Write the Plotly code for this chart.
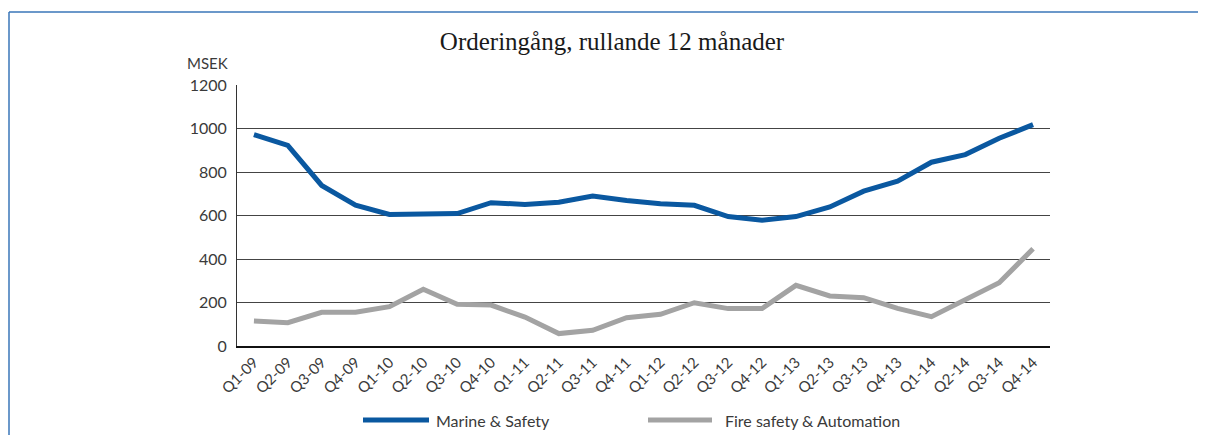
import plotly.graph_objects as go

quarters = ["Q1-09", "Q2-09", "Q3-09", "Q4-09", "Q1-10", "Q2-10", "Q3-10", "Q4-10",
            "Q1-11", "Q2-11", "Q3-11", "Q4-11", "Q1-12", "Q2-12", "Q3-12", "Q4-12",
            "Q1-13", "Q2-13", "Q3-13", "Q4-13", "Q1-14", "Q2-14", "Q3-14", "Q4-14"]
marine_safety = [972, 922, 738, 648, 605, 605, 609, 659, 651, 661, 690, 669,
                 654, 647, 595, 578, 595, 639, 712, 758, 845, 880, 955, 1018]
fire_safety_automation = [115, 107, 155, 155, 181, 261, 192, 188, 133, 57, 72, 130,
                          146, 199, 172, 172, 279, 230, 222, 173, 135, 210, 291, 447]
y_ticks = [0, 200, 400, 600, 800, 1000, 1200]
series_names = ["Marine & Safety", "Fire safety & Automation"]
series_colors = ["#0a58a0", "#a3a3a3"]

W, H = 1206, 435
OFF = 7  # page offset of the figure inside the window
FW, FH = W - OFF, H - OFF
ML, MR, MT, MB = 236 - OFF, W - 1049, 84 - OFF, H - 345
PW, PH = FW - ML - MR, FH - MT - MB


def px(xw):  # window x -> paper x
    return (xw - OFF - ML) / PW


def py(yw):  # window y -> paper y
    return 1 - (yw - OFF - MT) / PH


font_family = "Lato, 'Open Sans', sans-serif"
txt_color = "#3a3a3a"

fig = go.Figure()
fig.add_trace(go.Scatter(x=quarters, y=marine_safety, mode="lines", name=series_names[0],
                         line=dict(color=series_colors[0], width=5)))
fig.add_trace(go.Scatter(x=quarters, y=fire_safety_automation, mode="lines",
                         name=series_names[1], line=dict(color=series_colors[1], width=5)))

frame_color = "#3a76b8"
shapes = [
    dict(type="line", xref="paper", yref="paper", x0=px(8), x1=px(W + 20),
         y0=py(11), y1=py(11), line=dict(color=frame_color, width=1.5)),
    dict(type="line", xref="paper", yref="paper", x0=px(8), x1=px(8),
         y0=py(11), y1=py(H + 20), line=dict(color=frame_color, width=1.5)),
]
annotations = [dict(text="MSEK", xref="paper", yref="paper", x=px(229), y=py(62),
                    xanchor="right", yanchor="middle", showarrow=False,
                    font=dict(family=font_family, size=15, color=txt_color))]

# custom legend (long swatches as in the reference)
legend_items = [(362, 428, 433), (647, 711, 722)]
for (x0, x1, xt), name, col in zip(legend_items, series_names, series_colors):
    shapes.append(dict(type="line", xref="paper", yref="paper", x0=px(x0), x1=px(x1),
                       y0=py(419), y1=py(419), line=dict(color=col, width=5)))
    annotations.append(dict(text=name, xref="paper", yref="paper", x=px(xt), y=py(419),
                            xanchor="left", yanchor="middle", showarrow=False,
                            font=dict(family=font_family, size=16, color=txt_color)))

fig.update_layout(
    width=FW, height=FH,
    margin=dict(l=ML, r=MR, t=MT, b=MB),
    paper_bgcolor="white", plot_bgcolor="white",
    title=dict(text="Orderingång, rullande 12 månader", x=(611 - OFF) / FW, xanchor="center",
               y=1 - (40 - OFF) / FH, yanchor="middle", xref="container", yref="container",
               font=dict(family="'Liberation Serif', 'DejaVu Serif', serif", size=25,
                         color="#1a1a1a")),
    xaxis=dict(type="category", range=[-0.5, len(quarters) - 0.5], tickangle=-45,
               showgrid=False, showline=True, linecolor="#111", linewidth=1.5,
               ticks="", tickfont=dict(family=font_family, size=15, color=txt_color)),
    yaxis=dict(range=[0, 1200], tickvals=y_ticks, showgrid=True, gridcolor="#444",
               gridwidth=1, showline=True, linecolor="#333", linewidth=1,
               zeroline=False, ticks="", ticklabelstandoff=6,
               tickfont=dict(family=font_family, size=16, color=txt_color)),
    showlegend=False,
    shapes=shapes,
    annotations=annotations,
)

fig.write_html("out.html")
